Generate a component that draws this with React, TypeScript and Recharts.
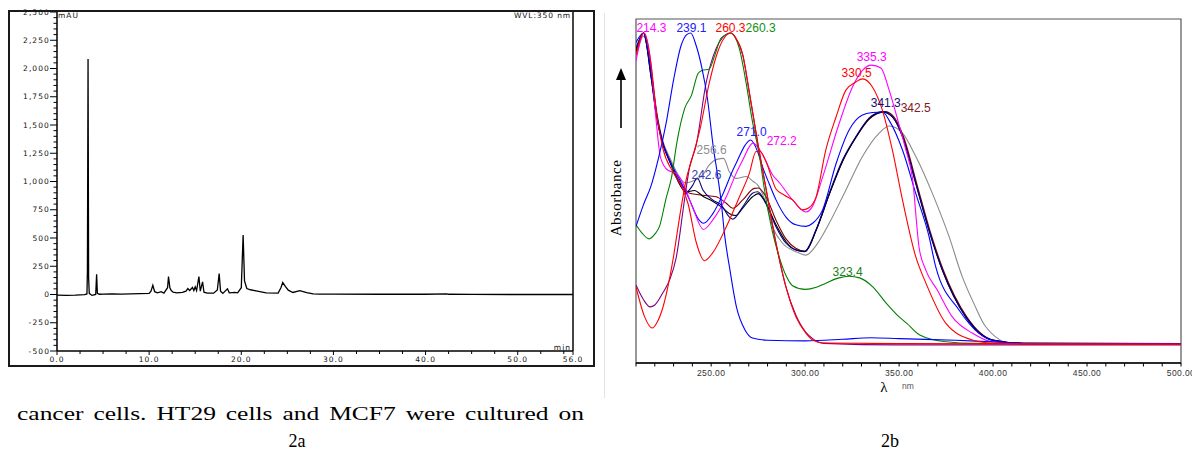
import React from 'react';
import { LineChart, Line, XAxis, YAxis, ReferenceLine, ReferenceArea, ReferenceDot } from 'recharts';

// ---------------- 2a : HPLC chromatogram (WVL 350 nm) ----------------
const chromTimes = [
  0, 1, 2, 3, 3.25, 3.3, 3.37, 3.43, 3.5, 3.8, 4.2, 4.3, 4.38, 4.6, 5, 6, 7, 8, 9, 10,
  10.2, 10.4, 10.6, 10.9, 11.3, 11.6, 12.0, 12.1, 12.25, 12.4, 12.6, 13, 13.6, 14.0, 14.2, 14.4,
  14.7, 14.85, 15.0, 15.15, 15.4, 15.55, 15.8, 15.95, 16.3, 17.0, 17.4, 17.6, 17.75, 18.0, 18.5,
  18.7, 19.3, 19.6, 20.0, 20.2, 20.35, 20.6, 21.0, 21.6, 22.7, 24.0, 24.3, 24.5, 24.8, 25.1, 25.6,
  26.35, 27.1, 27.8, 28.5, 30, 35, 40, 42.3, 42.5, 45, 50, 56,
];
const chromMAU = [
  -5, -8, -6, -2, 5, 200, 2083, 150, 10, -8, 0, 179, 10, 2, 3, 6, 4, 5, 7, 10,
  30, 82, 25, 15, 25, 12, 60, 159, 60, 35, 20, 15, 18, 30, 53, 35,
  62, 35, 67, 35, 159, 30, 111, 20, 12, 12, 40, 185, 30, 10, 50,
  15, 18, 15, 60, 526, 120, 53, 42, 32, 14, 12, 60, 106, 70, 38, 18,
  34, 17, 5, 3, 3, 2, 2, 6, 2, 1, 0, 0,
];
const chromMajorX = [0, 10, 20, 30, 40, 50, 56];
const chromXTicks = [...Array.from({ length: 23 }, (_, i) => i * 2.5), 56];
const chromYTicks = Array.from({ length: 61 }, (_, i) => -500 + i * 50);

// ---------------- 2b : UV-Vis spectra (nm, relative absorbance) ----------------
const specBlue239: [number, number][] = [[210,38],[214,45],[218,51],[222,60],[226,71],[230,85],[234,96],[237,99.5],[239.1,100],[242,96],[245,89],[248,79],[251,64],[253.5,54],[255.5,45],[257,36],[260,24],[263.5,12],[268,4.8],[272,2.2],[280,1.5],[300,1.3],[320,1.8],[335,2.3],[350,2],[380,1.5],[400,1],[420,0.6],[500,0.4]];
const specGreen: [number, number][] = [[210,38.5],[213,36],[217,34],[220,35.5],[222.5,38],[226,47],[229,54],[231.5,64],[236,76],[239.5,80],[243,87],[245,88],[249,88.5],[252,93],[255.3,98.4],[258.8,99.7],[260.3,100],[265,95],[268.6,84],[272,71.5],[275.6,61],[278.3,50],[282.7,36],[286.3,28],[290,22],[293.3,19],[300,17.8],[306,18.5],[311,19.8],[318,21.5],[323.4,22],[329,21.5],[336,18.6],[343,13.5],[350,9],[354,7],[361,3.2],[375,1],[390,0.5],[500,0.4]];
const specRed260: [number, number][] = [[210,18.6],[214.6,9],[218.7,5.4],[221,7],[224.3,12],[229.6,27],[233.2,41],[236.7,53],[240,60],[244,69],[249,84],[253.5,94],[257,98.5],[260.3,100],[263,98.5],[266.8,93],[270.3,81],[274.7,65],[279.2,50],[284.5,32.7],[289.8,18.6],[295.1,9],[300.4,3.8],[304,1.6],[310,0.6],[350,0.4],[500,0.3]];
const specPurple: [number, number][] = [[210,19.2],[214,14.5],[217.5,12.2],[220,12.8],[224.3,16.7],[228,21],[231.4,28],[235.8,46.5],[238.5,57],[242,64],[247.3,84],[252.6,95],[256,98.5],[260.3,100],[263,98.5],[266.8,93],[270.3,81],[274.7,65],[279.2,50],[284.5,32.5],[289.8,18.5],[295.1,9.5],[300.4,4],[304,2],[310,0.5],[350,0],[500,0]];
const specRed330: [number, number][] = [[210,93],[214.3,100],[218,90],[220.8,75],[224.3,63],[229.6,55.5],[234.9,50],[237.6,45.5],[242,33],[246.4,27],[250.8,29.5],[258,37.8],[265,47.4],[270.3,55],[273.9,62],[276,62],[279.2,58.7],[284.5,50],[289,48],[293.3,46.5],[298.6,43.3],[302,44],[305.8,47.4],[311,62.5],[316.4,73],[321.7,81.7],[327,84.3],[330.5,85.3],[335.8,82.7],[341.1,75.3],[346.4,62.5],[351.8,46.5],[358.9,28.2],[364.2,19.9],[374.8,7],[389,1.6],[399.5,0.6],[420,0.3],[500,0.2]];
const specMagenta: [number, number][] = [[210,91],[214.3,100],[218,90],[220.4,74],[223.1,60],[227,56],[231.4,55],[234.9,52],[240.2,44],[245.9,37],[250.8,40],[258,47.4],[263.3,55],[266.8,59.3],[272.2,64.7],[277.4,61],[282.7,54.5],[286.3,52],[293.3,46.5],[300.4,42.6],[304,44.5],[309.3,53.8],[318.1,71],[325.2,82.7],[330.5,88],[335.3,89.7],[340.3,88.8],[344.7,81.7],[350,70.5],[353.6,62.5],[357.1,53.5],[360.6,31.4],[364.2,24],[370.3,17.6],[378.3,9],[388.9,3.8],[399.5,1],[420,0.3],[500,0.2]];
const specBlue271: [number, number][] = [[210,97],[214,100],[218,88],[221,74],[224,65],[228,59],[233.2,53],[238.5,46.5],[242.9,40.6],[245.9,39],[250.8,42],[256.2,48.3],[261.5,56],[264.1,59.3],[268,64],[271,65.7],[274.7,62],[277.4,57],[281,51.5],[284.5,46.5],[289.8,41],[295.1,38.5],[300.4,38],[304,39],[309.3,43.3],[316.4,58],[323.4,68.9],[330.5,73.7],[335.8,74.5],[341.3,74.7],[344.7,72],[351.8,62.5],[358.9,48.5],[366,34.6],[369.5,25],[381.9,11.2],[392.5,3.7],[403,1],[420,0.4],[500,0.3]];
const specNavy: [number, number][] = [[210,95],[214,100],[218,86],[221,73],[224,65],[228.5,58],[232,53],[236.7,49],[240,51],[242.6,53.5],[245.6,49.7],[250.8,46.5],[255.3,44.9],[259.7,41],[261.5,40.3],[266.8,44.3],[272,48.6],[274.7,49.1],[279.2,45.4],[284.5,37.9],[289.8,32.6],[295,30.4],[299.5,29.9],[305.8,36.9],[312.8,48.6],[319.9,59.3],[327,66.8],[334,72.7],[341.3,74.8],[346.4,73.2],[351.8,66.8],[358.9,51.8],[365.9,36.9],[373,24],[385.4,9],[399.5,1.6],[420,0.4],[500,0.3]];
const specBrown: [number, number][] = [[210,94],[214,100],[218,87],[221,74],[224,65.5],[228.5,58.5],[232,53.5],[236.7,49.5],[238.5,48.6],[245.5,48],[252.7,47.5],[258,45.4],[261.5,43.8],[266.8,46.5],[273,50.2],[275,50.3],[279.2,47.5],[284.5,40],[289.8,34],[295,31],[300,30],[306,37],[313,48.5],[320,59],[327,66.5],[334,72.3],[342.5,74.8],[347,73.3],[352.5,66.5],[359.5,51.5],[366.5,36.5],[373.5,24],[386,9],[400,1.6],[420,0.4],[500,0.3]];
const specBlack: [number, number][] = [[210,94],[214,100],[218,86],[221,73],[224,65],[228.5,58],[232,53],[236.7,49],[241,49.5],[246,47.5],[251,46],[256,44],[260,42],[263,41.5],[267,44],[272,47.5],[275,48.5],[279,45.5],[284.5,38.5],[290,33],[295,30.5],[300,30],[306,37],[313,48.5],[320,59],[327,66.5],[334,72.5],[341.5,74.6],[346.5,73],[352,66.5],[359,51.5],[366,36.5],[373,24],[385.5,9],[399.5,1.6],[420,0.4],[500,0.3]];
const specGray: [number, number][] = [[210,92],[214,99],[218,88],[221,75],[224,66],[228,60],[232,55],[236,52],[240,52.5],[245.5,54.5],[249,57.7],[253,59.5],[256.6,59.8],[259.7,55.5],[263.3,53.4],[268.6,54],[272.6,52.3],[274.7,51.3],[279.2,45.4],[282.7,37.9],[288,32.6],[295.1,29.9],[300.4,28.8],[306,32],[312.8,39],[321.7,49.7],[330.5,60.4],[339.4,67.9],[344.7,70.2],[351.8,67.9],[358.9,60.4],[367.7,48.6],[376.6,34.7],[383.6,21.9],[390,13],[396,5.9],[410,0.5],[500,0.3]];

const specSeries = [
  { name: 'gray', color: '#8a8a8a', pts: specGray },
  { name: 'brown', color: '#800000', pts: specBrown },
  { name: 'black', color: '#000000', pts: specBlack },
  { name: 'navy', color: '#000080', pts: specNavy },
  { name: 'blue271', color: '#0000ff', pts: specBlue271 },
  { name: 'magenta', color: '#ff00ff', pts: specMagenta },
  { name: 'purple', color: '#800080', pts: specPurple },
  { name: 'green', color: '#008000', pts: specGreen },
  { name: 'blue239', color: '#0000ff', pts: specBlue239 },
  { name: 'red260', color: '#ff0000', pts: specRed260 },
  { name: 'red330', color: '#ff0000', pts: specRed330 },
];

const peakLabels = [
  { text: '214.3', nm: 218.2, abs: 101.6, color: '#ff00ff' },
  { text: '239.1', nm: 239.5, abs: 101.6, color: '#2020ff' },
  { text: '260.3', nm: 260.3, abs: 101.6, color: '#ff0000' },
  { text: '260.3', nm: 276.3, abs: 101.6, color: '#109010' },
  { text: '271.0', nm: 271.5, abs: 68.3, color: '#2020ff' },
  { text: '272.2', nm: 287.5, abs: 65.4, color: '#ff00ff' },
  { text: '256.6', nm: 250.2, abs: 62.5, color: '#909090' },
  { text: '242.6', nm: 247.5, abs: 54.5, color: '#3040b0' },
  { text: '335.3', nm: 335.4, abs: 92.3, color: '#ff00ff' },
  { text: '330.5', nm: 327.4, abs: 87.2, color: '#ff0000' },
  { text: '341.3', nm: 342.9, abs: 77.6, color: '#101070' },
  { text: '342.5', nm: 358.8, abs: 76.0, color: '#802020' },
  { text: '323.4', nm: 322.6, abs: 23.4, color: '#208020' },
];

const specXTicks = Array.from({ length: 30 }, (_, i) => 210 + i * 10);
const specMajorX = [250, 300, 350, 400, 450, 500];

const captionText = 'cancer cells. HT29 cells and MCF7 were cultured on';

// ---------------- tick renderers ----------------
const leftFont = '"DejaVu Sans", sans-serif';

const LeftXTick = (p: any) => {
  const v = p.payload.value;
  const major = chromMajorX.includes(v);
  return (
    <g>
      <line x1={p.x} x2={p.x} y1={p.y} y2={p.y + (major ? 4 : 3)} stroke="#000" strokeWidth={1} />
      {major && (
        <text x={p.x} y={p.y + 10.5} textAnchor="middle" fontSize={7.5} letterSpacing={1} fontFamily={leftFont} fill="#111">
          {v.toFixed(1)}
        </text>
      )}
    </g>
  );
};

const LeftYTick = (p: any) => {
  const v = p.payload.value;
  const major = v % 250 === 0;
  return (
    <g>
      <line x1={p.x - (major ? 7 : 3.5)} x2={p.x} y1={p.y} y2={p.y} stroke="#000" strokeWidth={1} />
      {major && (
        <text x={p.x - 7} y={p.y + 2.7} textAnchor="end" fontSize={7.5} letterSpacing={1.1} fontFamily={leftFont} fill="#111">
          {v.toLocaleString('en-US')}
        </text>
      )}
    </g>
  );
};

const RightXTick = (p: any) => {
  const v = p.payload.value;
  const major = specMajorX.includes(v);
  return (
    <g>
      <line x1={p.x} x2={p.x} y1={p.y} y2={p.y + 3.5} stroke="#000" strokeWidth={1} />
      {major && (
        <text x={p.x} y={p.y + 13} textAnchor="middle" fontSize={8.5} letterSpacing={0.4} fontFamily='"Liberation Sans", Arial, sans-serif' fill="#333">
          {v.toFixed(2)}
        </text>
      )}
    </g>
  );
};

const chromData = chromTimes.map((t, i) => ({ t, mAU: chromMAU[i] }));

const LeftChart = () => (
  <LineChart width={600} height={380} data={chromData} margin={{ top: 12, right: 27, bottom: 9, left: 0 }}>
    <XAxis
      dataKey="t" type="number" domain={[0, 56]} ticks={chromXTicks} interval={0}
      tickSize={0} tickMargin={0} height={20} tickLine={false} tick={LeftXTick}
      axisLine={{ stroke: '#000', strokeWidth: 1.3 }} allowDataOverflow
    />
    <YAxis
      type="number" domain={[-500, 2500]} ticks={chromYTicks} interval={0} width={57}
      tickSize={0} tickMargin={0} tickLine={false} tick={LeftYTick}
      axisLine={{ stroke: '#000', strokeWidth: 1.5 }} allowDataOverflow
    />
    <ReferenceLine x={56} stroke="#444" strokeWidth={2} />
    <Line dataKey="mAU" type="linear" stroke="#000" strokeWidth={1.3} dot={false} isAnimationActive={false} />
  </LineChart>
);

const LabelShape = (color: string, text: string) => (p: any) => (
  <text x={p.cx} y={p.cy + 4.3} textAnchor="middle" fontSize={12} fontFamily='"Liberation Sans", Arial, sans-serif' fill={color}>
    {text}
  </text>
);

const RightChart = () => (
  <LineChart width={592} height={400} margin={{ top: 19, right: 11, bottom: 7, left: 36 }}>
    <XAxis
      dataKey="nm" type="number" domain={[210, 500]} ticks={specXTicks} interval={0}
      tickSize={0} tickMargin={0} height={30} tickLine={false} tick={RightXTick}
      axisLine={{ stroke: '#000', strokeWidth: 1.5 }} allowDataOverflow
    />
    <YAxis type="number" domain={[-5.8, 104.5]} width={0} tick={false} tickLine={false} axisLine={{ stroke: '#000', strokeWidth: 1.5 }} allowDataOverflow />
    <ReferenceArea x1={210} x2={500} y1={-5.8} y2={104.5} fill="none" fillOpacity={0} stroke="#555" strokeWidth={1.2} ifOverflow="visible" />
    {specSeries.map((s) => (
      <Line
        key={s.name} data={s.pts.map(([nm, v]) => ({ nm, v }))} dataKey="v" type="monotone"
        stroke={s.color} strokeWidth={1.1} dot={false} isAnimationActive={false}
      />
    ))}
    {peakLabels.map((l, i) => (
      <ReferenceDot key={i} x={l.nm} y={l.abs} r={0} shape={LabelShape(l.color, l.text)} />
    ))}
  </LineChart>
);

const serif = '"Liberation Serif", "Times New Roman", serif';

export default function App() {
  return (
    <div style={{ position: 'absolute', left: 0, top: 0, width: 1192, height: 450, background: '#fff', overflow: 'hidden' }}>
      <div style={{ position: 'absolute', left: 0, top: 0 }}>
        <LeftChart />
      </div>
      <svg width={600} height={380} style={{ position: 'absolute', left: 0, top: 0, pointerEvents: 'none' }}>
        <text x={58} y={17.5} fontSize={7.5} letterSpacing={1} fontFamily={leftFont} fill="#111">mAU</text>
        <text x={571} y={17.5} textAnchor="end" fontSize={7.5} letterSpacing={0.9} fontFamily={leftFont} fill="#111">WVL:350 nm</text>
        <text x={571} y={349.5} textAnchor="end" fontSize={7.5} letterSpacing={1} fontFamily={leftFont} fill="#111">min</text>
      </svg>
      <div style={{ position: 'absolute', left: 8, top: 10, width: 583, height: 353, border: '2px solid #1a1a1a', pointerEvents: 'none' }} />

      <div style={{ position: 'absolute', left: 604, top: 13, width: 1, height: 385, background: '#e2e2e2' }} />
      <div style={{ position: 'absolute', left: 600, top: 0 }}>
        <RightChart />
      </div>
      <svg width={1192} height={450} style={{ position: 'absolute', left: 0, top: 0, pointerEvents: 'none' }}>
        <line x1={621} x2={621} y1={78} y2={128} stroke="#000" strokeWidth={1.6} />
        <polygon points="621,68 616,80 626,80" fill="#000" />
        <text
          x={616} y={198} transform="rotate(-90 616 198)" textAnchor="middle" dominantBaseline="central"
          fontSize={15} letterSpacing={0.5} fontFamily={serif} fill="#000"
        >
          Absorbance
        </text>
        <text x={884} y={392} textAnchor="middle" fontSize={15} fontFamily={serif} fill="#000">λ</text>
        <text x={902} y={389} fontSize={8.5} fontFamily='"Liberation Sans", sans-serif' fill="#555">nm</text>

        <text
          x={17} y={420} textLength={567} lengthAdjust="spacingAndGlyphs" fontSize={18}
          wordSpacing={2.5} fontFamily={serif} fill="#000"
        >
          {captionText}
        </text>
        <text x={297} y={447} textAnchor="middle" fontSize={18} fontFamily={serif} fill="#000">2a</text>
        <text x={890} y={447} textAnchor="middle" fontSize={18} fontFamily={serif} fill="#000">2b</text>
      </svg>
    </div>
  );
}
